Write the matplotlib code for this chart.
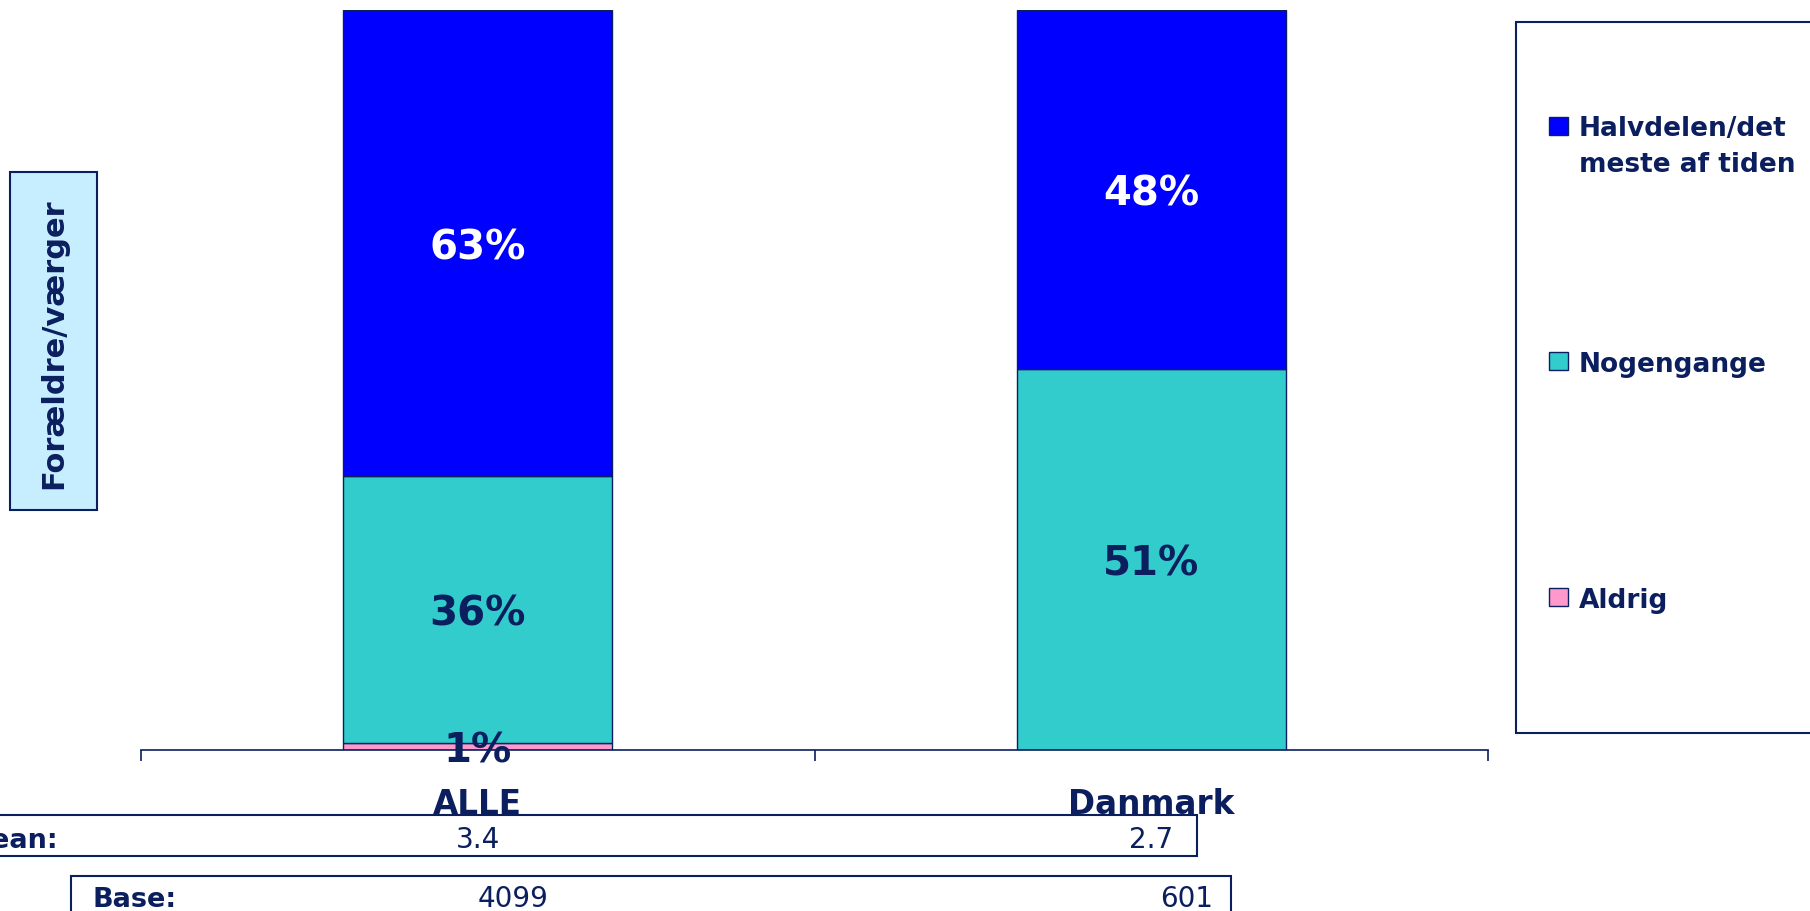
import matplotlib
matplotlib.use('Agg')
import matplotlib.pyplot as plt
import matplotlib.transforms as mtransforms
from matplotlib.patches import Rectangle
import numpy as np

# data
categories = ['ALLE', 'Danmark']
series_names = ['Aldrig', 'Nogengange', 'Halvdelen/det\nmeste af tiden']
aldrig = [1, 0]
nogengange = [36, 51]
halvdelen = [63, 48]
means = [3.4, 2.7]
bases = [4099, 601]
y_title = 'Forældre/værger'

series_colors = ['#FF99CC', '#33CCCC', '#0000FF']
label_colors = ['#0B1E5E', '#0B1E5E', 'white']
NAVY = '#0B1E5E'

W, H = 1810, 912


def fx(px):
    return px / W


def fy(py):
    return 1 - py / H


fig = plt.figure(figsize=(W / 100, H / 100), dpi=100)
ax = fig.add_axes([fx(141), fy(751), fx(1488) - fx(141), fy(11) - fy(751)])

values = np.array([aldrig, nogengange, halvdelen], dtype=float)
shares = values / values.sum(axis=0) * 100  # 100% stacked, as in the original

x = np.arange(len(categories))
bottom = np.zeros(len(categories))
for name, share, raw, color, lc in zip(series_names, shares, values, series_colors, label_colors):
    ax.bar(x, share, 0.4, bottom=bottom, color=color, edgecolor=NAVY, linewidth=1, label=name)
    for xi, b, s, v in zip(x, bottom, share, raw):
        if v > 0:
            ax.text(xi, b + s / 2, f'{v:.0f}%', ha='center', va='center_baseline',
                    color=lc, fontsize=29, fontweight='bold')
    bottom += share

ax.set_xlim(-0.5, 1.5)
ax.set_ylim(0, 100)
for s in ['top', 'right', 'left']:
    ax.spines[s].set_visible(False)
ax.spines['bottom'].set_color(NAVY)
ax.spines['bottom'].set_linewidth(1.2)
ax.set_yticks([])
ax.set_xticks(x, categories, fontsize=23.5, fontweight='bold', color=NAVY)
ax.tick_params(axis='x', which='major', length=0, pad=26.5)
ax.set_xticks([-0.5, 0.5, 1.5], minor=True)
ax.tick_params(axis='x', which='minor', length=7.9, width=1.2, color=NAVY)

# y title box
fig.add_artist(Rectangle((fx(10), fy(511)), fx(97) - fx(10), fy(173) - fy(511),
                         transform=fig.transFigure, facecolor='#C6EEFF', edgecolor=NAVY, lw=1.5))
fig.text(fx(54), fy(344), y_title, rotation=90, ha='center', va='center',
         fontsize=22, fontweight='bold', color=NAVY)

# legend box (top entry first)
fig.add_artist(Rectangle((fx(1515.5), fy(734)), fx(1830) - fx(1515.5), fy(23) - fy(734),
                         transform=fig.transFigure, facecolor='white', edgecolor=NAVY, lw=1.5))
leg_baselines = [137, 372, 608]
line_px = 34.5
for name, color, base_y in zip(series_names[::-1], series_colors[::-1], leg_baselines):
    fig.add_artist(Rectangle((fx(1549), fy(base_y - 1)), fx(1568) - fx(1549), fy(base_y - 19) - fy(base_y - 1),
                             transform=fig.transFigure, facecolor=color, edgecolor=NAVY, lw=1))
    # va='baseline' pins the last line, so shift down by the extra lines
    last_y = base_y + line_px * name.count('\n')
    fig.text(fx(1579), fy(last_y), name, ha='left', va='baseline', fontsize=19,
             fontweight='bold', color=NAVY, linespacing=1.5)

# Mean / Base rows
fig.add_artist(Rectangle((fx(-20), fy(857)), fx(1197) - fx(-20), fy(816) - fy(857),
                         transform=fig.transFigure, facecolor='none', edgecolor=NAVY, lw=1.5))
fig.add_artist(Rectangle((fx(71), fy(940)), fx(1231) - fx(71), fy(877) - fy(940),
                         transform=fig.transFigure, facecolor='none', edgecolor=NAVY, lw=1.5))
fig.text(fx(58), fy(848), 'Mean:', ha='right', va='baseline', fontsize=19.5,
         fontweight='bold', color=NAVY)
fig.text(fx(92), fy(907), 'Base:', ha='left', va='baseline', fontsize=19.5,
         fontweight='bold', color=NAVY)

row_trans = mtransforms.blended_transform_factory(ax.transData, fig.transFigure)
base_trans = mtransforms.offset_copy(row_trans, fig=fig, x=35, y=0, units='dots')
for xi, m, b in zip(x, means, bases):
    fig.text(xi, fy(848), f'{m:.1f}', transform=row_trans, ha='center', va='baseline',
             fontsize=20, color=NAVY)
    fig.text(xi, fy(907), f'{b}', transform=base_trans, ha='center', va='baseline',
             fontsize=20, color=NAVY)

fig.savefig('out.png', dpi=100, facecolor='white')
